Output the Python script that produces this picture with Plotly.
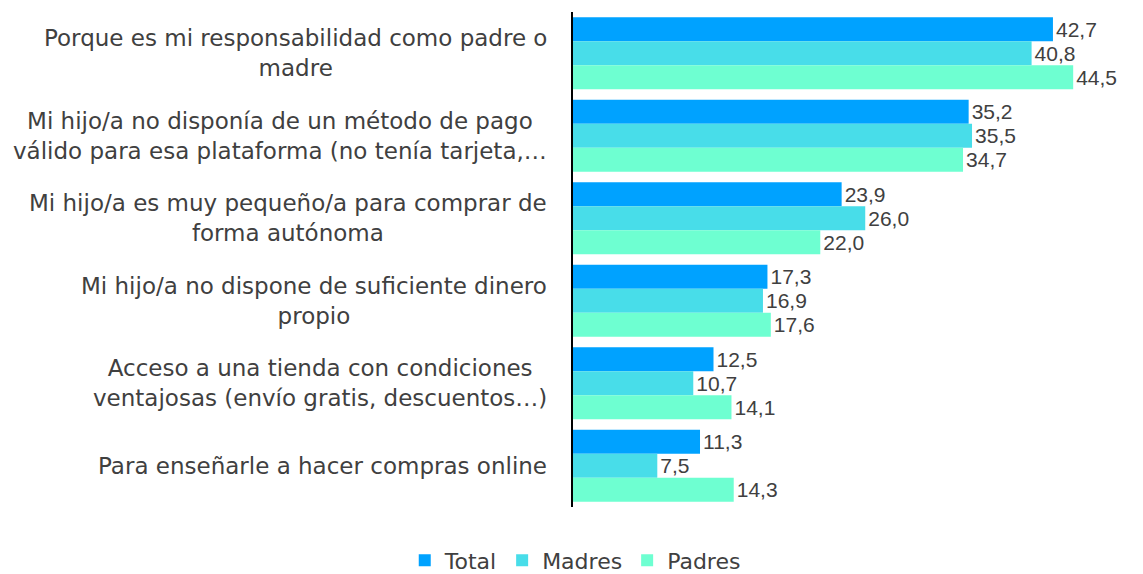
import plotly.graph_objects as go

categories = [
    "Porque es mi responsabilidad como padre o<br>madre",
    "Mi hijo/a no disponía de un método de pago<br>válido para esa plataforma (no tenía tarjeta,…",
    "Mi hijo/a es muy pequeño/a para comprar de<br>forma autónoma",
    "Mi hijo/a no dispone de suficiente dinero<br>propio",
    "Acceso a una tienda con condiciones<br>ventajosas (envío gratis, descuentos…)",
    "Para enseñarle a hacer compras online",
]
total = [42.7, 35.2, 23.9, 17.3, 12.5, 11.3]
madres = [40.8, 35.5, 26.0, 16.9, 10.7, 7.5]
padres = [44.5, 34.7, 22.0, 17.6, 14.1, 14.3]

series = [("Total", total, "#00A2FF"), ("Madres", madres, "#48DDE9"), ("Padres", padres, "#6EFFD1")]

FONT = "DejaVu Sans"
NUMFONT = "Liberation Sans"
TXT = "#404040"
n = len(categories)

fig = go.Figure()
for name, vals, col in series:
    fig.add_trace(go.Bar(
        y=list(range(n)), x=vals, name=name, orientation="h",
        marker=dict(color=col, line=dict(width=0)),
        text=[f"{v:.1f}".replace(".", ",") for v in vals],
        textposition="outside", cliponaxis=False,
        textfont=dict(family=NUMFONT, size=21, color=TXT),
    ))

for i, c in enumerate(categories):
    fig.add_annotation(
        x=0, xref="paper", y=i, yref="y", text=c, showarrow=False,
        xanchor="right", yanchor="middle", align="center", xshift=-24,
        font=dict(family=FONT, size=23, color=TXT),
    )

fig.update_layout(
    width=1135, height=566,
    margin=dict(l=565, r=8, t=4, b=67, autoexpand=False),
    barmode="group", bargap=0.127, bargroupgap=0,
    plot_bgcolor="white", paper_bgcolor="white",
    showlegend=True,
    legend=dict(orientation="h", x=0.004, xanchor="center",
                y=-0.108, yanchor="middle",
                font=dict(family=FONT, size=22, color=TXT),
                traceorder="normal", itemwidth=30),
    xaxis=dict(range=[0, 50], visible=False),
    yaxis=dict(range=[n - 0.5, -0.5], showticklabels=False, showline=True,
               linecolor="black", linewidth=2, showgrid=False, zeroline=False),
)

fig.write_html("out.html")
